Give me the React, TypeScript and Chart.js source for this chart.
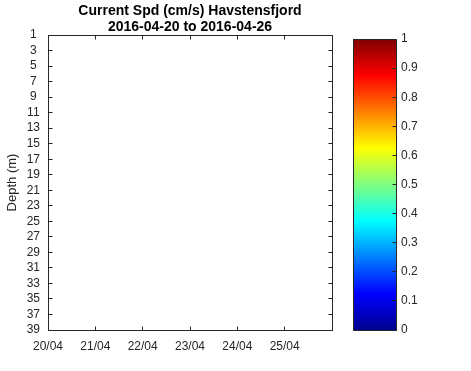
import React, { useEffect, useRef } from 'react';
import { Chart, registerables } from 'chart.js';

Chart.register(...registerables);

// ---- data ----
const titleLines = ['Current Spd (cm/s) Havstensfjord', '2016-04-20 to 2016-04-26'];
const yAxisLabel = 'Depth (m)';
const dayValues = [0, 1, 2, 3, 4, 5, 6];
const dateLabels = ['20/04', '21/04', '22/04', '23/04', '24/04', '25/04', ''];
const depthTicks = [1, 3, 5, 7, 9, 11, 13, 15, 17, 19, 21, 23, 25, 27, 29, 31, 33, 35, 37, 39];
const colorbarTicks = [0, 0.1, 0.2, 0.3, 0.4, 0.5, 0.6, 0.7, 0.8, 0.9, 1];
const colorbarLabels = ['0', '0.1', '0.2', '0.3', '0.4', '0.5', '0.6', '0.7', '0.8', '0.9', '1'];
const speedPoints: { x: number; y: number }[] = []; // no measurements in this window

// ---- styles ----
const FONT = '"Liberation Sans", Arial, Helvetica, sans-serif';
const INK = '#262626';
const jetStops = [0, 0.125, 0.375, 0.625, 0.875, 1];
const jetColors = ['#000090', '#0000ff', '#00ffff', '#ffff00', '#ff0000', '#800000'];
const W = 471;
const H = 371;

const crisp = (v: number) => Math.floor(v) + 0.5;

const mainFrame = {
  id: 'mainFrame',
  afterDraw(chart: any) {
    const { ctx, chartArea: a, scales } = chart;
    const L = crisp(a.left), R = crisp(a.right), T = crisp(a.top), B = crisp(a.bottom);
    const tl = 4;
    ctx.save();
    ctx.strokeStyle = INK;
    ctx.lineWidth = 1;
    ctx.beginPath();
    ctx.rect(L, T, R - L, B - T);
    dayValues.forEach((v) => {
      const px = crisp(scales.x.getPixelForValue(v));
      ctx.moveTo(px, B); ctx.lineTo(px, B - tl);
      ctx.moveTo(px, T); ctx.lineTo(px, T + tl);
    });
    depthTicks.forEach((v) => {
      const py = crisp(scales.y.getPixelForValue(v));
      ctx.moveTo(L, py); ctx.lineTo(L + tl, py);
      ctx.moveTo(R, py); ctx.lineTo(R - tl, py);
    });
    ctx.stroke();

    // title
    ctx.fillStyle = '#000';
    ctx.font = `bold 14px ${FONT}`;
    ctx.textAlign = 'center';
    ctx.textBaseline = 'alphabetic';
    const cx = (a.left + a.right) / 2;
    ctx.fillText(titleLines[0], cx, 14.5);
    ctx.fillText(titleLines[1], cx, 31);

    // y axis label
    ctx.fillStyle = INK;
    ctx.font = `13px ${FONT}`;
    ctx.translate(12.5, (a.top + a.bottom) / 2);
    ctx.rotate(-Math.PI / 2);
    ctx.textBaseline = 'middle';
    ctx.fillText(yAxisLabel, 0, 0);
    ctx.restore();
  },
};

const cbFrame = {
  id: 'cbFrame',
  afterDraw(chart: any) {
    const { ctx, chartArea: a, scales } = chart;
    const L = crisp(a.left), R = crisp(a.right), T = crisp(a.top), B = crisp(a.bottom);
    ctx.save();
    ctx.strokeStyle = INK;
    ctx.lineWidth = 1;
    ctx.beginPath();
    ctx.rect(L, T, R - L, B - T);
    colorbarTicks.forEach((v) => {
      const py = crisp(scales.y.getPixelForValue(v));
      ctx.moveTo(R, py); ctx.lineTo(R - 4, py);
    });
    ctx.stroke();
    ctx.restore();
  },
};

export default function App() {
  const mainRef = useRef<HTMLCanvasElement>(null);
  const cbRef = useRef<HTMLCanvasElement>(null);

  useEffect(() => {
    const main = new Chart(mainRef.current!, {
      type: 'scatter',
      data: { datasets: [{ data: speedPoints, pointRadius: 0 }] },
      options: {
        animation: false,
        responsive: false,
        events: [],
        layout: { padding: { left: 0, top: 35, right: W - 332, bottom: 0 } },
        plugins: { legend: { display: false }, tooltip: { enabled: false }, title: { display: false } },
        scales: {
          x: {
            type: 'linear',
            min: 0,
            max: 6,
            afterBuildTicks: (s: any) => { s.ticks = dayValues.map((v) => ({ value: v })); },
            afterFit: (s: any) => { s.height = H - 330; },
            grid: { display: false, drawTicks: false },
            border: { display: false },
            ticks: {
              autoSkip: false,
              maxRotation: 0,
              padding: 9,
              color: INK,
              font: { family: FONT, size: 12 },
              callback: (_v: any, i: number) => dateLabels[i],
            },
          },
          y: {
            type: 'linear',
            reverse: true,
            min: 1,
            max: 39,
            afterBuildTicks: (s: any) => { s.ticks = depthTicks.map((v) => ({ value: v })); },
            afterFit: (s: any) => { s.width = 48; },
            grid: { display: false, drawTicks: false },
            border: { display: false },
            ticks: {
              autoSkip: false,
              crossAlign: 'center',
              padding: 8,
              color: INK,
              font: { family: FONT, size: 12 },
              callback: (v: any) => String(v),
            },
          },
        },
      },
      plugins: [mainFrame],
    } as any);

    const cb = new Chart(cbRef.current!, {
      type: 'bar',
      data: {
        labels: ['speed'],
        datasets: [
          {
            data: [[colorbarTicks[0], colorbarTicks[colorbarTicks.length - 1]]],
            barPercentage: 1,
            categoryPercentage: 1,
            borderWidth: 0,
            backgroundColor: (c: any) => {
              const ch = c.chart;
              if (!ch.chartArea) return jetColors[0];
              const ys = ch.scales.y;
              const g = ch.ctx.createLinearGradient(0, ys.getPixelForValue(0), 0, ys.getPixelForValue(1));
              jetStops.forEach((s, i) => g.addColorStop(s, jetColors[i]));
              return g;
            },
          },
        ],
      },
      options: {
        animation: false,
        responsive: false,
        events: [],
        layout: { padding: { left: 353, top: 39, right: 0, bottom: H - 330 } },
        plugins: { legend: { display: false }, tooltip: { enabled: false }, title: { display: false } },
        scales: {
          x: { display: false },
          y: {
            type: 'linear',
            position: 'right',
            min: 0,
            max: 1,
            afterBuildTicks: (s: any) => { s.ticks = colorbarTicks.map((v) => ({ value: v })); },
            afterFit: (s: any) => { s.width = W - 396; },
            grid: { display: false, drawTicks: false },
            border: { display: false },
            ticks: {
              autoSkip: false,
              padding: 5,
              color: INK,
              font: { family: FONT, size: 12 },
              callback: (_v: any, i: number) => colorbarLabels[i],
            },
          },
        },
      },
      plugins: [cbFrame],
    } as any);

    return () => {
      main.destroy();
      cb.destroy();
    };
  }, []);

  return (
    <div style={{ position: 'absolute', left: 0, top: 0, width: W, height: H, background: '#fff' }}>
      <canvas ref={mainRef} width={W} height={H} style={{ position: 'absolute', left: 0, top: 0 }} />
      <canvas ref={cbRef} width={W} height={H} style={{ position: 'absolute', left: 0, top: 0 }} />
    </div>
  );
}
